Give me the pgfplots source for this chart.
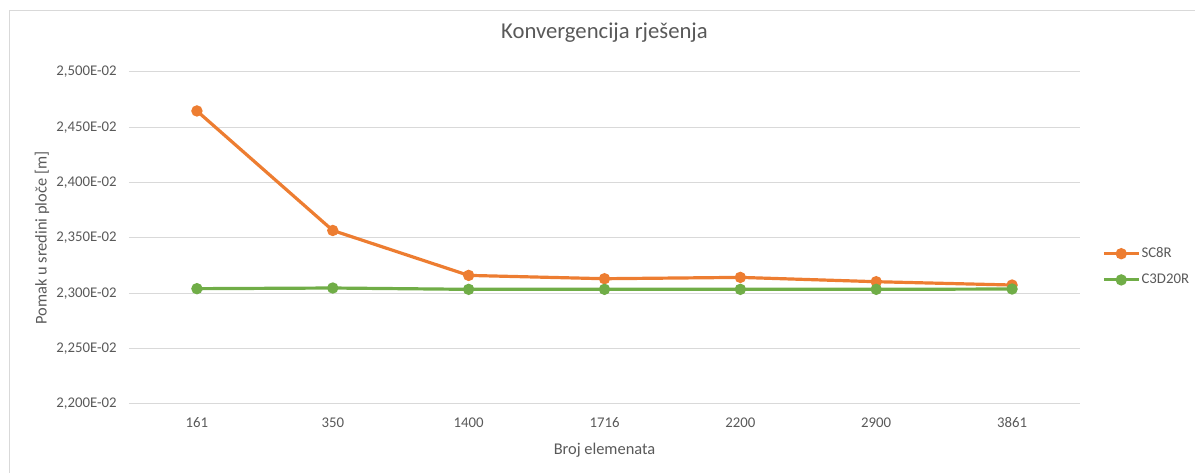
\documentclass[border=0pt]{standalone}
\usepackage{fontspec}
\setmainfont{Carlito}
\usepackage{pgfplots}
\pgfplotsset{compat=1.18}
\definecolor{xlorange}{HTML}{ED7D31}
\definecolor{xlgreen}{HTML}{70AD47}
\definecolor{xlgrid}{HTML}{D9D9D9}
\definecolor{xltext}{HTML}{595959}

\begin{document}
\begin{tikzpicture}
\useasboundingbox (-96.75pt,-51.75pt) rectangle (799.5pt,303pt);
\draw[xlgrid, line width=0.75pt] (-89.6pt,-51.75pt) -- (-89.6pt,294.75pt) -- (799.5pt,294.75pt);
\begin{axis}[
  at={(0,0)}, anchor=south west,
  scale only axis,
  width=713.25pt,
  height=249pt,
  xmin=-0.5, xmax=6.5,
  ymin=0.022, ymax=0.025,
  xtick={0,1,2,3,4,5,6},
  xticklabels={161,350,1400,1716,2200,2900,3861},
  ytick={0.022,0.0225,0.023,0.0235,0.024,0.0245,0.025},
  yticklabels={{2,200E-02},{2,250E-02},{2,300E-02},{2,350E-02},{2,400E-02},{2,450E-02},{2,500E-02}},
  scaled y ticks=false,
  ymajorgrids=true,
  grid style={xlgrid, line width=0.75pt},
  axis line style={draw=none},
  major tick length=0pt,
  tick label style={font=\fontsize{11.1}{13}\selectfont, text=xltext},
  xticklabel style={anchor=base, yshift=-18pt, inner sep=0pt},
  yticklabel style={anchor=east, xshift=-9pt, inner sep=0pt},
  title={Konvergencija rješenja},
  title style={at={(axis description cs:0.5,1)}, anchor=base, yshift=19pt, font=\fontsize{17}{20}\selectfont, text=xltext},
  xlabel={Broj elemenata},
  xlabel style={at={(axis description cs:0.5,0)}, anchor=base, yshift=-38pt, font=\fontsize{12.3}{15}\selectfont, text=xltext},
  ylabel={Pomak u sredini ploče [m]},
  ylabel style={at={(axis description cs:-0.0915,0.5)}, anchor=center, font=\fontsize{12.3}{15}\selectfont, text=xltext},
  legend style={draw=none, fill=none, at={(1.019,0.4136)}, anchor=west,
    font=\fontsize{11.1}{13}\selectfont, text=xltext, row sep=8.75pt,
    nodes={inner sep=1pt}},
  legend cell align=left,
  legend image code/.code={\draw[mark repeat=2,mark phase=2] plot coordinates {(0pt,0pt) (13pt,0pt) (26pt,0pt)};},
]
\addplot[color=xlorange, line width=2.4pt, mark=*, mark size=3pt, mark options={solid}] coordinates {
  (0,0.024648) (1,0.023568) (2,0.023162) (3,0.023132) (4,0.023144) (5,0.023105) (6,0.023075)};
\addlegendentry{SC8R}
\addplot[color=xlgreen, line width=2.4pt, mark=*, mark size=3pt, mark options={solid}] coordinates {
  (0,0.023042) (1,0.023048) (2,0.023036) (3,0.023036) (4,0.023036) (5,0.023036) (6,0.023039)};
\addlegendentry{C3D20R}
\end{axis}
\end{tikzpicture}
\end{document}
